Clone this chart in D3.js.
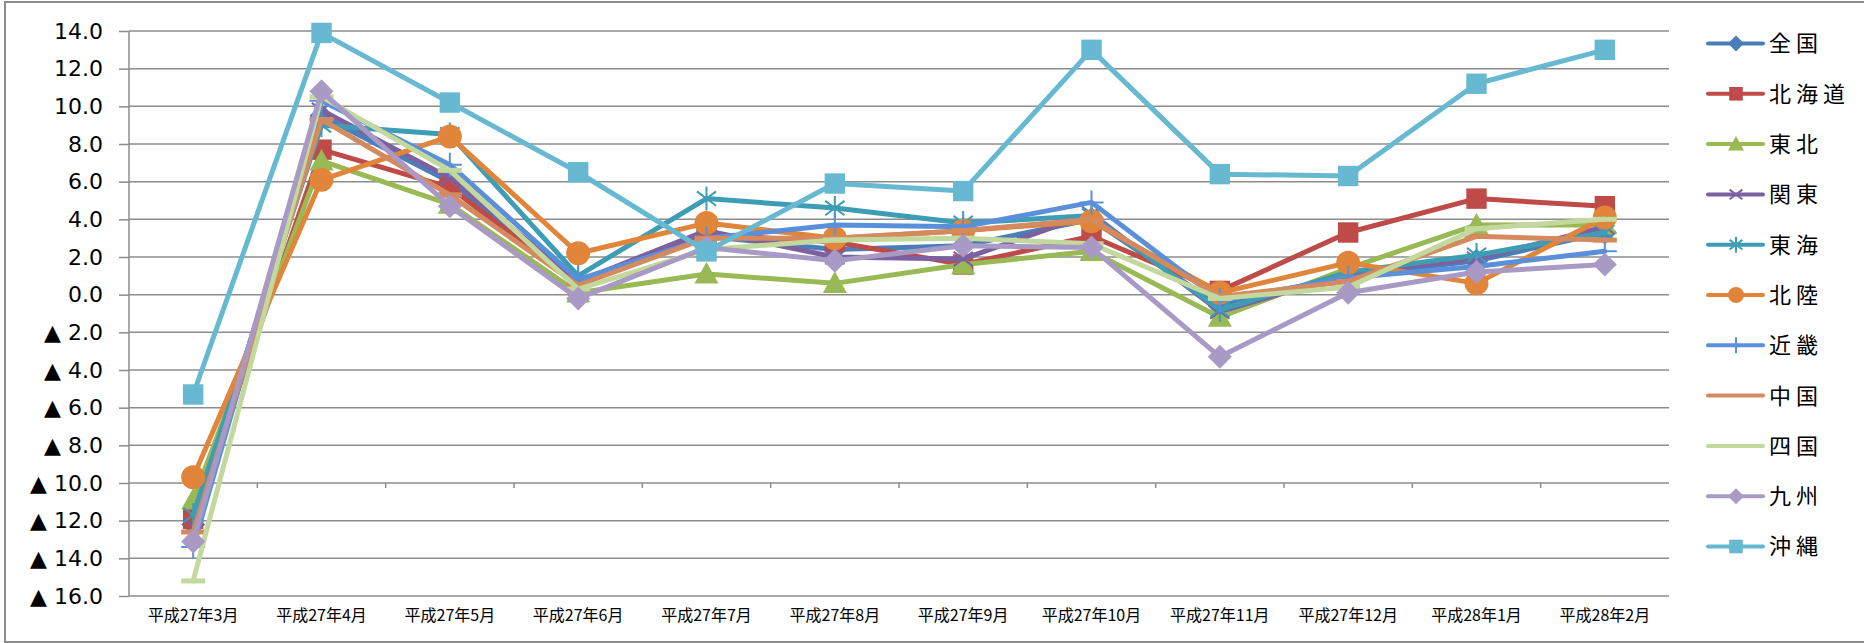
<!DOCTYPE html>
<html lang="ja">
<head>
<meta charset="UTF-8">
<title>地域別 前年同月比</title>
<script src="https://d3js.org/d3.v7.min.js"></script>
<style>
  body { margin: 0; background: #fff; }
  .chart text { fill: #000; }
</style>
</head>
<body>
<div class="chart"></div>
<script>
// 月（横軸）
const months = ['平成27年3月','平成27年4月','平成27年5月','平成27年6月','平成27年7月','平成27年8月',
                '平成27年9月','平成27年10月','平成27年11月','平成27年12月','平成28年1月','平成28年2月']
const regions = ['全国','北海道','東北','関東','東海','北陸','近畿','中国','四国','九州','沖縄']
const yTicks = [14,12,10,8,6,4,2,0,-2,-4,-6,-8,-10,-12,-14,-16]

// 各地域の値
const zenkoku  = [-12.2, 9.5, 6.0, 0.6, 3.1, 2.4, 2.6, 4.0, -0.6, 1.0, 1.8, 3.3]
const hokkaido = [-11.9, 7.7, 5.7, 0.5, 3.2, 2.8, 1.6, 3.1, 0.2, 3.3, 5.1, 4.7]
const tohoku   = [-10.9, 7.1, 4.8, 0.1, 1.1, 0.6, 1.6, 2.3, -1.2, 1.4, 3.7, 3.7]
const kanto    = [-12.3, 9.8, 6.2, 0.7, 3.4, 2.0, 1.9, 4.3, -0.9, 1.1, 1.9, 3.6]
const tokai    = [-11.7, 9.0, 8.5, 1.0, 5.1, 4.6, 3.8, 4.2, -0.8, 1.2, 2.1, 3.3]
const hokuriku = [-9.7, 6.1, 8.4, 2.2, 3.8, 3.0, 3.4, 3.9, 0.1, 1.7, 0.6, 4.1]
const kinki    = [-13.4, 10.3, 6.9, 0.8, 3.0, 3.7, 3.6, 4.9, -0.3, 0.9, 1.5, 2.3]
const chugoku  = [-12.6, 9.3, 5.3, 0.5, 3.0, 3.0, 3.4, 4.0, -0.1, 0.7, 3.1, 2.9]
const shikoku  = [-15.2, 10.5, 6.6, 0.3, 2.4, 2.9, 3.0, 2.7, -0.2, 0.4, 3.5, 4.0]
const kyushu   = [-13.1, 10.8, 4.7, -0.2, 2.5, 1.8, 2.6, 2.5, -3.3, 0.1, 1.2, 1.6]
const okinawa  = [-5.3, 13.9, 10.2, 6.5, 2.3, 5.9, 5.5, 13.0, 6.4, 6.3, 11.2, 13.0]

const values = [zenkoku, hokkaido, tohoku, kanto, tokai, hokuriku, kinki, chugoku, shikoku, kyushu, okinawa]
const colors = ['#4a7ebb','#be4b48','#98b954','#7d60a0','#3d9db5','#e0853a','#5a90da','#d48a5e','#c3d89c','#a89ac4','#66b9d0']
const markers = ['diamond','square','triangle','x','star','circle','plus','dash','dash','diamond','square']

const W = 1864, H = 643
const svg = d3.select('.chart').append('svg').attr('width', W).attr('height', H)

// 外枠
svg.append('rect').attr('x', 5).attr('y', 2).attr('width', W + 10).attr('height', H - 3)
  .attr('fill', 'none').attr('stroke', '#8c8c8c').attr('stroke-width', 2)

const x = d3.scaleBand().domain(months).range([129, 1669])
const y = d3.scaleLinear().domain([-16, 14]).range([596, 31])
const cx = m => x(m) + x.bandwidth() / 2

// 目盛線
svg.append('g').selectAll('line').data(yTicks).enter().append('line')
  .attr('x1', 129).attr('x2', 1669)
  .attr('y1', d => y(d)).attr('y2', d => y(d))
  .attr('stroke', '#8c8c8c').attr('stroke-width', 1.5)

// 縦軸
const yAxis = d3.axisLeft(y).tickValues(yTicks).tickSize(10).tickPadding(16)
  .tickFormat(d => d < 0 ? '▲ ' + Math.abs(d).toFixed(1) : d.toFixed(1))
const gy = svg.append('g').attr('transform', 'translate(129,0)').call(yAxis)
gy.selectAll('line, path').attr('stroke', '#8c8c8c').attr('stroke-width', 1.5)
gy.select('path').attr('d', `M0,${y(14)}V${y(-16)}`)
gy.selectAll('text').style('font-family', '"DejaVu Sans", sans-serif').style('font-size', '22px')

// 横軸（ラベル）
const xAxis = d3.axisBottom(x).tickSize(0).tickPadding(14)
const gx = svg.append('g').attr('transform', `translate(0,${y(-16)})`).call(xAxis)
gx.select('path').remove()
gx.selectAll('text').style('font-family', '"Noto Sans CJK JP", sans-serif').style('font-size', '16px')

// 区切り目盛（-10の位置）
svg.append('g').selectAll('line').data(months.slice(1)).enter().append('line')
  .attr('x1', d => x(d)).attr('x2', d => x(d))
  .attr('y1', y(-10)).attr('y2', y(-10) + 5)
  .attr('stroke', '#8c8c8c').attr('stroke-width', 1.5)

// マーカー描画
function drawMarker(g, type, color, s) {
  if (type === 'diamond') {
    g.append('path').attr('d', `M0,${-s}L${s},0L0,${s}L${-s},0Z`).attr('fill', color)
  } else if (type === 'square') {
    g.append('rect').attr('x', -s * 0.85).attr('y', -s * 0.85).attr('width', s * 1.7).attr('height', s * 1.7).attr('fill', color)
  } else if (type === 'triangle') {
    g.append('path').attr('d', `M0,${-s}L${s},${s * 0.8}L${-s},${s * 0.8}Z`).attr('fill', color)
  } else if (type === 'circle') {
    g.append('circle').attr('r', s).attr('fill', color)
  } else if (type === 'x') {
    g.append('path').attr('d', `M${-s * 0.8},${-s * 0.6}L${s * 0.8},${s * 0.6}M${-s * 0.8},${s * 0.6}L${s * 0.8},${-s * 0.6}`)
      .attr('stroke', color).attr('stroke-width', 2).attr('fill', 'none')
  } else if (type === 'star') {
    g.append('path').attr('d', `M${-s * 0.8},${-s * 0.6}L${s * 0.8},${s * 0.6}M${-s * 0.8},${s * 0.6}L${s * 0.8},${-s * 0.6}M0,${-s}V${s}`)
      .attr('stroke', color).attr('stroke-width', 2).attr('fill', 'none')
  } else if (type === 'plus') {
    g.append('path').attr('d', `M${-s},0H${s}M0,${-s}V${s}`)
      .attr('stroke', color).attr('stroke-width', 2).attr('fill', 'none')
  } else if (type === 'dash') {
    g.append('rect').attr('x', -s).attr('y', -2.5).attr('width', s * 2).attr('height', 5).attr('fill', color)
  }
}

const line = d3.line().x((d, i) => cx(months[i])).y(d => y(d))

regions.forEach((r, k) => {
  const g = svg.append('g')
  g.append('path').datum(values[k]).attr('d', line)
    .attr('fill', 'none').attr('stroke', colors[k]).attr('stroke-width', 5)
    .attr('stroke-linejoin', 'round').attr('stroke-linecap', 'round')
  values[k].forEach((v, i) => {
    const mg = g.append('g').attr('transform', `translate(${cx(months[i])},${y(v)})`)
    drawMarker(mg, markers[k], colors[k], 12)
  })
})

// 凡例
const legend = svg.append('g')
regions.forEach((r, k) => {
  const ly = 43.5 + 50.3 * k
  const lg = legend.append('g').attr('transform', `translate(0,${ly})`)
  lg.append('line').attr('x1', 1708).attr('x2', 1763).attr('y1', 0).attr('y2', 0)
    .attr('stroke', colors[k]).attr('stroke-width', 4).attr('stroke-linecap', 'round')
  if (markers[k] !== 'dash') {
    const mg = lg.append('g').attr('transform', 'translate(1736,0)')
    drawMarker(mg, markers[k], colors[k], 8)
  }
  lg.append('text').attr('x', 1769).attr('y', 0).attr('dy', '0.36em')
    .style('font-family', '"Noto Sans CJK JP", sans-serif').style('font-size', '22px')
    .style('letter-spacing', '5px').text(r)
})
</script>
</body>
</html>
